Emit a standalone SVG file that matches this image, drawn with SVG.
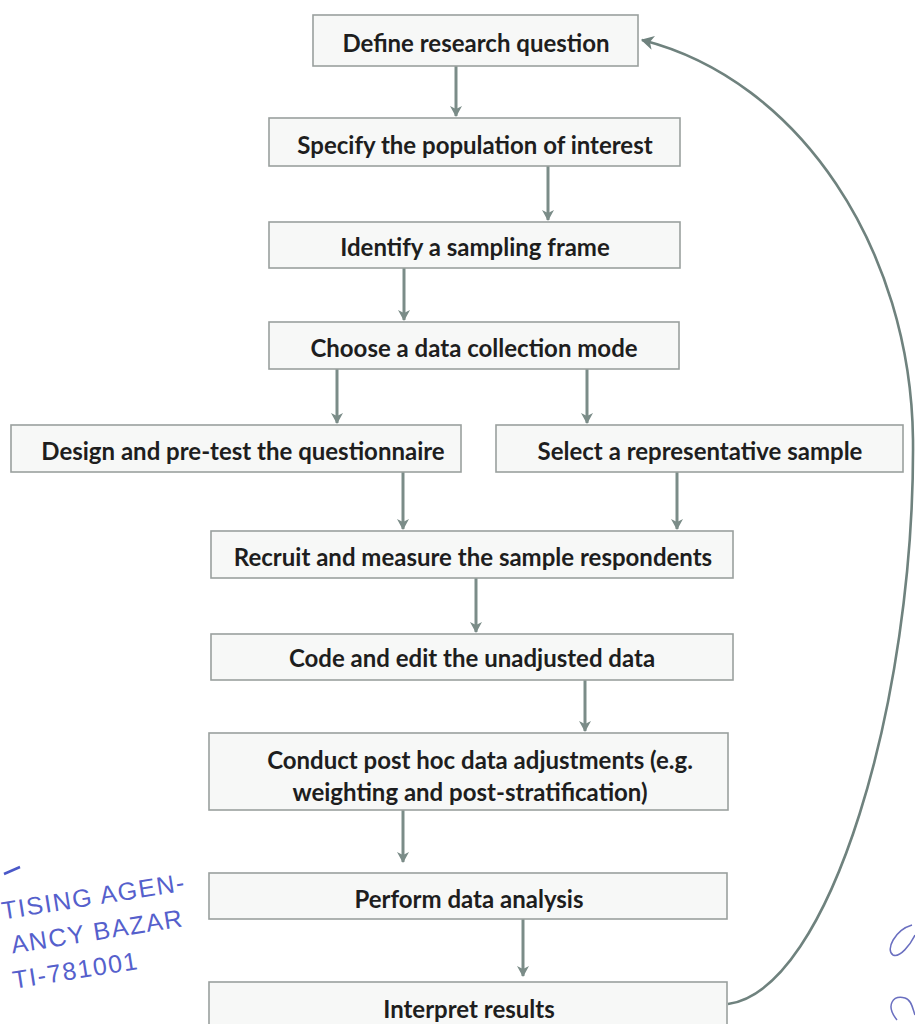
<svg xmlns="http://www.w3.org/2000/svg" width="915" height="1024" viewBox="0 0 915 1024">
<style>
.box{fill:#f7f8f7;stroke:#9aa09e;stroke-width:1.6}
.lbl{font-family:Lato,"Liberation Sans",sans-serif;font-weight:bold;font-size:24px;fill:#1e1e1e;text-anchor:middle}
.arr{fill:none;stroke:#7b8c88;stroke-width:3;marker-end:url(#ah)}
.fb{fill:none;stroke:#6f827e;stroke-width:2.6;marker-end:url(#ah2)}
.stamp{font-family:"Liberation Sans",sans-serif;font-size:25px;fill:#5560cc;letter-spacing:1.5px}
</style>
<defs>
<marker id="ah" markerWidth="12" markerHeight="12" viewBox="0 0 12 12" refX="10" refY="6" orient="auto" markerUnits="userSpaceOnUse">
<path d="M0,0 L11,6 L0,12 L3,6 Z" fill="#7b8c88"/>
</marker>
<marker id="ah2" markerWidth="14" markerHeight="14" viewBox="0 0 12 12" refX="10" refY="6" orient="auto" markerUnits="userSpaceOnUse">
<path d="M0,0 L11,6 L0,12 L3,6 Z" fill="#6f827e"/>
</marker>
</defs>
<rect width="915" height="1024" fill="#ffffff"/>
<g id="connectors">
<line class="arr" x1="456" y1="66" x2="456" y2="116"/>
<line class="arr" x1="548" y1="166" x2="548" y2="220"/>
<line class="arr" x1="404" y1="268" x2="404" y2="320"/>
<line class="arr" x1="337" y1="369" x2="337" y2="423"/>
<line class="arr" x1="587" y1="369" x2="587" y2="423"/>
<line class="arr" x1="403" y1="472" x2="403" y2="529"/>
<line class="arr" x1="677" y1="472" x2="677" y2="529"/>
<line class="arr" x1="476" y1="578" x2="476" y2="632"/>
<line class="arr" x1="585" y1="680" x2="585" y2="731"/>
<line class="arr" x1="403" y1="810" x2="403" y2="862"/>
<line class="arr" x1="523" y1="919" x2="523" y2="976"/>
<path class="fb" d="M728,1004 C830,990 915,700 913,440 C911,250 800,80 642,40"/>
</g>
<g id="n1"><rect class="box" x="313" y="15" width="325" height="51"/><text class="lbl" x="476" y="52">Define research question</text></g>
<g id="n2"><rect class="box" x="269" y="118" width="411" height="48"/><text class="lbl" x="475" y="154">Specify the population of interest</text></g>
<g id="n3"><rect class="box" x="269" y="222" width="411" height="46"/><text class="lbl" x="475" y="256">Identify a sampling frame</text></g>
<g id="n4"><rect class="box" x="269" y="322" width="410" height="47"/><text class="lbl" x="474" y="357">Choose a data collection mode</text></g>
<g id="n5"><rect class="box" x="11" y="425" width="450" height="47"/><text class="lbl" x="243" y="460">Design and pre-test the questionnaire</text></g>
<g id="n6"><rect class="box" x="496" y="425" width="407" height="47"/><text class="lbl" x="700" y="460">Select a representative sample</text></g>
<g id="n7"><rect class="box" x="211" y="531" width="522" height="47"/><text class="lbl" x="473" y="566">Recruit and measure the sample respondents</text></g>
<g id="n8"><rect class="box" x="211" y="634" width="522" height="46"/><text class="lbl" x="472" y="667">Code and edit the unadjusted data</text></g>
<g id="n9"><rect class="box" x="209" y="733" width="519" height="77"/><text class="lbl" x="480" y="769">Conduct post hoc data adjustments (e.g.</text><text class="lbl" x="470" y="801">weighting and post-stratification)</text></g>
<g id="n10"><rect class="box" x="209" y="873" width="518" height="46"/><text class="lbl" x="469" y="908">Perform data analysis</text></g>
<g id="n11"><rect class="box" x="209" y="982" width="518" height="50"/><text class="lbl" x="469" y="1018">Interpret results</text></g>
<g id="stamp" transform="rotate(-9 0 920)">
<text class="stamp" x="3" y="920">TISING AGEN-</text>
<text class="stamp" x="7" y="955">ANCY BAZAR</text>
<text class="stamp" x="3" y="990">TI-781001</text>
</g>
<path d="M4,874 L20,867" stroke="#4a58c8" stroke-width="2.5" fill="none"/>
<path d="M912,925 C895,930 885,950 893,955 C900,958 910,945 915,935 M897,1020 C885,1005 893,995 905,998 C912,1000 913,1010 915,1015" stroke="#6a6fc0" stroke-width="1.5" fill="none"/>
</svg>
